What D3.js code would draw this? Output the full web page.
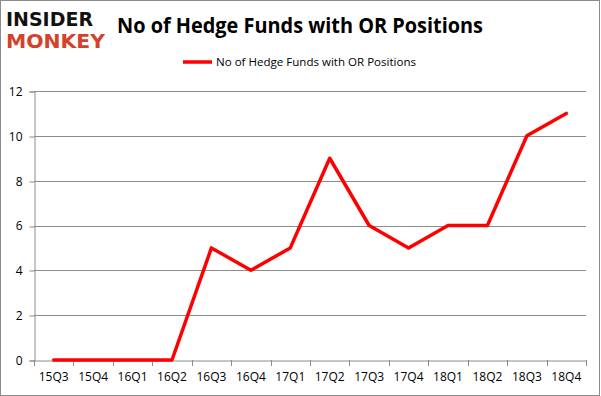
<!DOCTYPE html>
<html>
<head>
<meta charset="utf-8">
<script src="https://cdn.jsdelivr.net/npm/d3@7"></script>
<style>
  body { margin: 0; background: #fff; }
  svg { display: block; font-family: "Open Sans", "DejaVu Sans", sans-serif; }
</style>
</head>
<body>
<div id="chart"></div>
<script>
const quarters = ['15Q3', '15Q4', '16Q1', '16Q2', '16Q3', '16Q4', '17Q1', '17Q2', '17Q3', '17Q4', '18Q1', '18Q2', '18Q3', '18Q4']
const funds = [0, 0, 0, 0, 5, 4, 5, 9, 6, 5, 6, 6, 10, 11]
const yTicks = [0, 2, 4, 6, 8, 10, 12]
const seriesName = 'No of Hedge Funds with OR Positions'

const W = 601
const H = 396
const margin = { top: 91, right: 15, bottom: 36, left: 34 }

const svg = d3.select('#chart').append('svg')
  .attr('width', W)
  .attr('height', H)

// outer frame
svg.append('rect')
  .attr('x', 0.5).attr('y', 0.5)
  .attr('width', W - 2).attr('height', H - 1)
  .attr('fill', '#fff')
  .attr('stroke', '#8c8c8c')

const x = d3.scaleBand()
  .domain(quarters)
  .range([margin.left, W - margin.right])

const y = d3.scaleLinear()
  .domain([0, 12])
  .range([H - margin.bottom, margin.top])

// gridlines
svg.append('g')
  .selectAll('line')
  .data(yTicks.filter(d => d > 0))
  .join('line')
  .attr('x1', margin.left)
  .attr('x2', W - margin.right)
  .attr('y1', d => Math.round(y(d)) + 0.5)
  .attr('y2', d => Math.round(y(d)) + 0.5)
  .attr('stroke', '#8c8c8c')

// y axis
const yAxis = svg.append('g')
  .attr('transform', `translate(${margin.left + 0.5},0.5)`)
  .call(d3.axisLeft(y).tickValues(yTicks).tickSize(5).tickPadding(7))
yAxis.attr('font-family', '"Open Sans", sans-serif').attr('font-size', 12)
yAxis.select('.domain').attr('stroke', '#8c8c8c')
yAxis.selectAll('.tick line').attr('stroke', '#8c8c8c')
  .attr('transform', d => `translate(0,${Math.round(y(d)) - y(d)})`)
yAxis.selectAll('.tick text').attr('fill', '#000')

// x axis
const xAxis = svg.append('g')
  .attr('transform', `translate(0,${Math.round(y(0)) + 0.5})`)
  .call(d3.axisBottom(x).tickSize(0).tickPadding(12))
xAxis.attr('font-family', '"Open Sans", sans-serif').attr('font-size', 12)
xAxis.select('.domain').attr('stroke', '#8c8c8c')
xAxis.selectAll('.tick text').attr('fill', '#000')

// category boundary ticks
svg.append('g')
  .selectAll('line')
  .data(d3.range(quarters.length + 1))
  .join('line')
  .attr('x1', i => Math.round(margin.left + i * x.step()) + 0.5)
  .attr('x2', i => Math.round(margin.left + i * x.step()) + 0.5)
  .attr('y1', Math.round(y(0)))
  .attr('y2', Math.round(y(0)) + 6)
  .attr('stroke', '#8c8c8c')

// series line
const line = d3.line()
  .x((d, i) => x(quarters[i]) + x.bandwidth() / 2)
  .y(d => y(d))

svg.append('path')
  .datum(funds)
  .attr('d', line)
  .attr('fill', 'none')
  .attr('stroke', '#ff0000')
  .attr('stroke-width', 3.5)
  .attr('stroke-linejoin', 'round')
  .attr('stroke-linecap', 'round')

// title
svg.append('text')
  .attr('x', 117)
  .attr('y', 33)
  .attr('font-size', 21)
  .attr('font-weight', 'bold')
  .attr('textLength', 366)
  .attr('lengthAdjust', 'spacingAndGlyphs')
  .text(seriesName)

// legend
svg.append('line')
  .attr('x1', 183).attr('x2', 212)
  .attr('y1', 62).attr('y2', 62)
  .attr('stroke', '#ff0000')
  .attr('stroke-width', 3.5)
svg.append('text')
  .attr('x', 216)
  .attr('y', 66)
  .attr('font-size', 11)
  .attr('textLength', 200)
  .attr('lengthAdjust', 'spacingAndGlyphs')
  .text(seriesName)

// logo
const logo = svg.append('g')
  .attr('font-family', '"DejaVu Sans", sans-serif')
  .attr('font-weight', 'bold')
logo.append('text')
  .attr('x', 6).attr('y', 26)
  .attr('font-size', 20)
  .attr('textLength', 87)
  .attr('lengthAdjust', 'spacingAndGlyphs')
  .attr('fill', '#111')
  .text('INSIDER')
logo.append('text')
  .attr('x', 6).attr('y', 48)
  .attr('font-size', 20)
  .attr('textLength', 99)
  .attr('lengthAdjust', 'spacingAndGlyphs')
  .attr('fill', '#d4422b')
  .text('MONKEY')
</script>
</body>
</html>
